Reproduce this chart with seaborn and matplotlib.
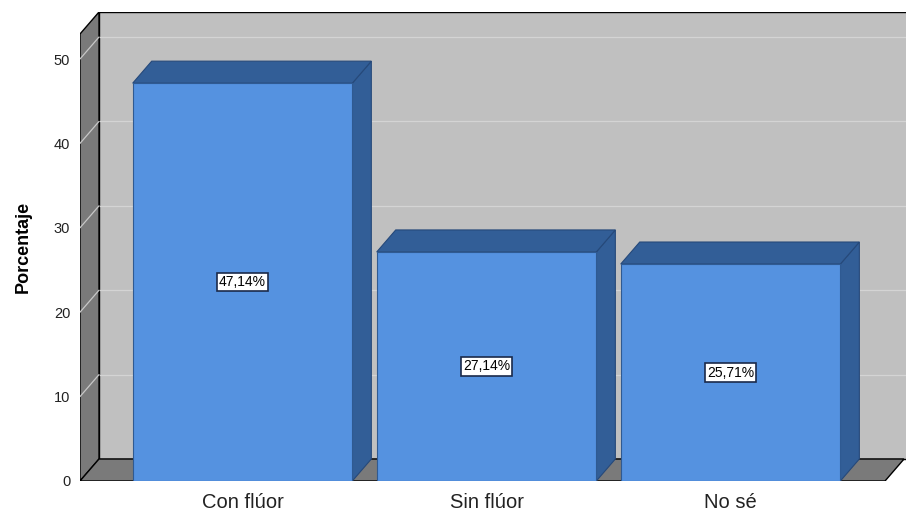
import matplotlib
matplotlib.use("Agg")
import matplotlib.pyplot as plt
from matplotlib.patches import Polygon
import seaborn as sns
import pandas as pd

categories = ["Con flúor", "Sin flúor", "No sé"]
percentages = [47.14, 27.14, 25.71]
value_labels = ["47,14%", "27,14%", "25,71%"]
y_ticks = [0, 10, 20, 30, 40, 50]

df = pd.DataFrame({"categoria": categories, "porcentaje": percentages})

sns.set_theme(style="white")
plt.rcParams["font.family"] = ["Liberation Sans", "DejaVu Sans"]

FRONT = "#5592e0"
DEPTH = "#325e97"
WALL = "#c0c0c0"
SIDE = "#7a7a7a"

fig = plt.figure(figsize=(9.06, 5.12), dpi=100)
ax = fig.add_axes([80 / 906, 31 / 512, 826 / 906, 469 / 512])

x_left, x_right = -0.666, 2.719
y_top = 55.57
floor_right = 2.633
dx, dy = 19 / 244, 22 / 8.44

# front faces of the bars
sns.barplot(data=df, x="categoria", y="porcentaje", width=0.9, color=FRONT,
            saturation=1, edgecolor="#2f5a92", linewidth=0.8, ax=ax, zorder=3)
bars = list(ax.containers[0])
ax.set_xlim(x_left, x_right)
ax.set_ylim(0, y_top)

# back wall
ax.add_patch(Polygon([(x_left + dx, dy), (x_right + 0.01, dy), (x_right + 0.01, y_top),
                      (x_left + dx, y_top)], closed=True, facecolor=WALL,
                     edgecolor="black", lw=1.0, zorder=0))
# grid on back wall
for t in y_ticks[1:]:
    ax.plot([x_left + dx, x_right], [t + dy, t + dy], color="#d4d4d4", lw=0.9, zorder=0.5)
# left side wall
ax.add_patch(Polygon([(x_left, 0), (x_left + dx, dy), (x_left + dx, y_top),
                      (x_left, y_top - dy)], closed=True, facecolor=SIDE,
                     edgecolor="black", lw=1.0, zorder=1))
# floor
ax.add_patch(Polygon([(x_left, 0), (floor_right, 0), (floor_right + dx, dy),
                      (x_left + dx, dy)], closed=True, facecolor=SIDE,
                     edgecolor="black", lw=1.0, zorder=1))
# grid on side wall
for t in y_ticks[1:]:
    ax.plot([x_left, x_left + dx], [t, t + dy], color="#c8c8c8", lw=0.9, zorder=1.6)

# depth faces (top and right side) of each bar
for bar, lab in zip(bars, value_labels):
    x0 = bar.get_x()
    x1 = x0 + bar.get_width()
    h = bar.get_height()
    ax.add_patch(Polygon([(x1, 0), (x1 + dx, dy), (x1 + dx, h + dy), (x1, h)],
                         closed=True, facecolor=DEPTH, edgecolor="#26497a", lw=0.8, zorder=2.5))
    ax.add_patch(Polygon([(x0, h), (x0 + dx, h + dy), (x1 + dx, h + dy), (x1, h)],
                         closed=True, facecolor=DEPTH, edgecolor="#26497a", lw=0.8, zorder=2.5))
    ax.text((x0 + x1) / 2, h / 2, lab, ha="center", va="center", fontsize=10,
            color="black", zorder=5,
            bbox=dict(boxstyle="square,pad=0.15", facecolor="white",
                      edgecolor="#1b2a4a", lw=1.2))

ax.set_yticks(y_ticks)
ax.set_yticklabels([str(t) for t in y_ticks], fontsize=10.5, color="#222222")
ax.tick_params(axis="y", length=0, pad=7)
ax.tick_params(axis="x", length=0, pad=9, labelsize=14.5, labelcolor="#222222")
ax.set_xlabel("")
ax.set_ylabel("Porcentaje", fontsize=13, fontweight="bold", color="black")
ax.yaxis.set_label_coords(-0.059, 0.5)
for s in ax.spines.values():
    s.set_visible(False)

fig.savefig("out.png", dpi=100, facecolor="white")
